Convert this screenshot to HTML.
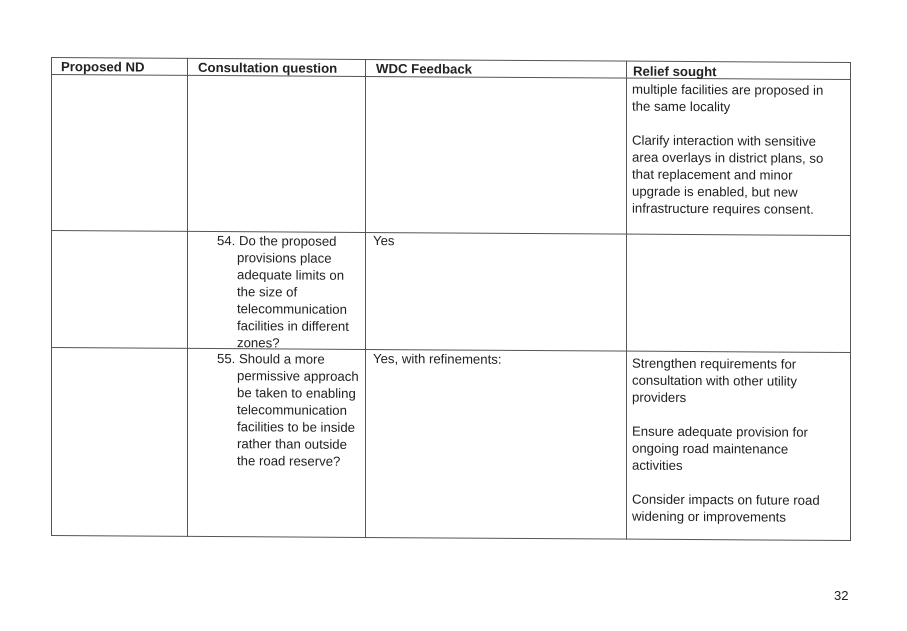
<!DOCTYPE html>
<html><head><meta charset="utf-8"><style>
html,body{margin:0;padding:0;background:#fff;}
body{width:907px;height:626px;overflow:hidden;position:relative;font-family:"Liberation Sans",sans-serif;color:#222;}
#w{position:absolute;left:0;top:0;width:907px;height:626px;transform-origin:51px 57px;transform:skewY(0.36deg);}
.t{position:absolute;font-size:13.2px;line-height:17px;white-space:nowrap;}
.h{font-weight:bold;font-size:13.2px;}
.hl{position:absolute;height:1.3px;background:#555;left:51px;width:800px;}
.vl{position:absolute;width:1.3px;background:#555;top:57px;height:479px;}
</style></head><body>
<div id="w">
<div class="hl" style="top:57px"></div>
<div class="hl" style="top:74px"></div>
<div class="hl" style="top:230px"></div>
<div class="hl" style="top:347px"></div>
<div class="hl" style="top:535px"></div>
<div class="vl" style="left:51px"></div>
<div class="vl" style="left:187px"></div>
<div class="vl" style="left:365px"></div>
<div class="vl" style="left:626px"></div>
<div class="vl" style="left:850px"></div>

<div class="t h" style="left:61px;top:58px">Proposed ND</div>
<div class="t h" style="left:198px;top:58px">Consultation question</div>
<div class="t h" style="left:376px;top:58px">WDC Feedback</div>
<div class="t h" style="left:633px;top:59px">Relief sought</div>

<div class="t" style="left:632px;top:77px">multiple facilities are proposed in<br>the same locality<br><br>Clarify interaction with sensitive<br>area overlays in district plans, so<br>that replacement and minor<br>upgrade is enabled, but new<br>infrastructure requires consent.</div>

<div class="t" style="left:217px;top:231px">54. Do the proposed</div>
<div class="t" style="left:237px;top:248px">provisions place<br>adequate limits on<br>the size of<br>telecommunication<br>facilities in different<br>zones?</div>
<div class="t" style="left:373px;top:230px">Yes</div>

<div class="t" style="left:217px;top:349px">55. Should a more</div>
<div class="t" style="left:237px;top:366px">permissive approach<br>be taken to enabling<br>telecommunication<br>facilities to be inside<br>rather than outside<br>the road reserve?</div>
<div class="t" style="left:373px;top:348px">Yes, with refinements:</div>
<div class="t" style="left:632px;top:351px">Strengthen requirements for<br>consultation with other utility<br>providers<br><br>Ensure adequate provision for<br>ongoing road maintenance<br>activities<br><br>Consider impacts on future road<br>widening or improvements</div>
</div>
<div class="t" style="left:834px;top:587px;font-size:13px">32</div>
</body></html>
